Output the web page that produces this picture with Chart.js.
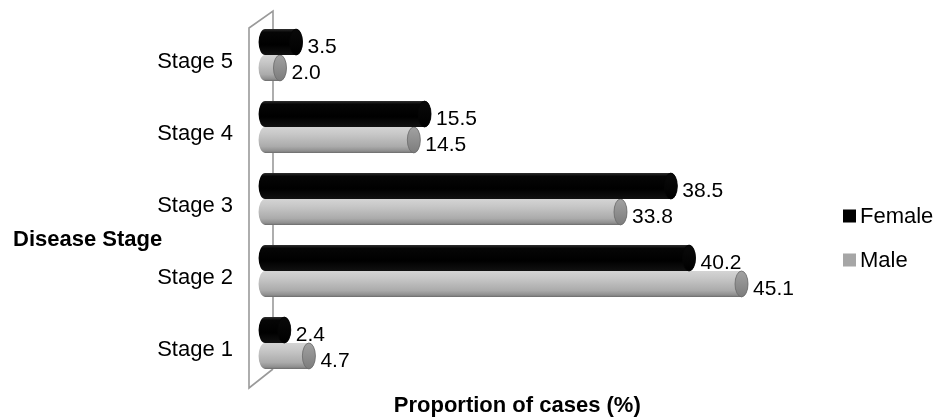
<!DOCTYPE html>
<html>
<head>
<meta charset="utf-8">
<script src="https://cdn.jsdelivr.net/npm/chart.js@4.4.1/dist/chart.umd.min.js"></script>
<style>
  html, body { margin: 0; padding: 0; background: #fff; }
  #wrap { width: 935px; height: 418px; }
</style>
</head>
<body>
<div id="wrap"><canvas id="chart" width="935" height="418"></canvas></div>
<script>
// Proportion of cases (%) by disease stage and sex
const categories = ['Stage 5', 'Stage 4', 'Stage 3', 'Stage 2', 'Stage 1'];
const femaleValues = [3.5, 15.5, 38.5, 40.2, 2.4];
const maleValues = [2.0, 14.5, 33.8, 45.1, 4.7];
const seriesNames = ['Female', 'Male'];

const FONT = '"Liberation Sans", Arial, Helvetica, sans-serif';

// Style of each series: body gradient stops, end-cap colours, legend swatch
const seriesStyle = [
  {
    body: [[0, '#2e2e2e'], [0.12, '#060606'], [0.6, '#000000'], [1, '#111111']],
    cap: ['#0a0a0a', '#000000'], capStroke: '#050505', swatch: '#000000'
  },
  {
    body: [[0, '#d4d4d4'], [0.3, '#c6c6c6'], [0.75, '#ababab'], [0.93, '#8e8e8e'], [1, '#6c6c6c']],
    cap: ['#a2a2a2', '#7c7c7c'], capStroke: '#6a6a6a', swatch: '#a6a6a6'
  }
];

// Draws each bar as a horizontal cylinder using the element geometry from the bar controller
const cylinderBars = {
  id: 'cylinderBars',
  beforeDatasetDraw(chart, args) {
    const ctx = chart.ctx;
    const style = seriesStyle[args.index];
    const rx = 6.5;
    args.meta.data.forEach(bar => {
      const { x, y, base, height } = bar.getProps(['x', 'y', 'base', 'height'], true);
      const top = y - height / 2, bottom = y + height / 2, ry = height / 2;
      const g = ctx.createLinearGradient(0, top, 0, bottom);
      style.body.forEach(s => g.addColorStop(s[0], s[1]));
      ctx.save();
      ctx.beginPath();
      ctx.moveTo(base, top);
      ctx.lineTo(x - rx, top);
      ctx.ellipse(x - rx, y, rx, ry, 0, -Math.PI / 2, Math.PI / 2);
      ctx.lineTo(base, bottom);
      ctx.ellipse(base, y, rx, ry, 0, Math.PI / 2, Math.PI * 1.5);
      ctx.closePath();
      ctx.fillStyle = g;
      ctx.fill();
      // end face
      const cg = ctx.createLinearGradient(0, top, 0, bottom);
      cg.addColorStop(0, style.cap[0]);
      cg.addColorStop(1, style.cap[1]);
      ctx.beginPath();
      ctx.ellipse(x - rx, y, rx, ry, 0, 0, Math.PI * 2);
      ctx.fillStyle = cg;
      ctx.fill();
      ctx.lineWidth = 0.8;
      ctx.strokeStyle = style.capStroke;
      ctx.stroke();
      ctx.restore();
    });
    return false;
  },
  afterDatasetsDraw(chart) {
    // value labels beside each bar end
    const ctx = chart.ctx;
    ctx.save();
    ctx.font = '21px ' + FONT;
    ctx.fillStyle = '#000';
    ctx.textAlign = 'left';
    ctx.textBaseline = 'middle';
    chart.data.datasets.forEach((ds, i) => {
      chart.getDatasetMeta(i).data.forEach((bar, j) => {
        const { x, y } = bar.getProps(['x', 'y'], true);
        ctx.fillText(ds.data[j].toFixed(1), x + 5, y + 5);
      });
    });
    ctx.restore();
  }
};

// Side wall of the 3-D plot area, axis caption and legend
const frame = {
  id: 'frame',
  beforeDatasetsDraw(chart) {
    const ctx = chart.ctx;
    const a = chart.chartArea;
    const fx = a.left, bx = a.left + 24;
    ctx.save();
    ctx.strokeStyle = '#9a9a9a';
    ctx.lineWidth = 1.6;
    ctx.beginPath();
    ctx.moveTo(bx, a.bottom - 10);
    ctx.lineTo(bx, a.top - 8);
    ctx.lineTo(fx, a.top + 9);
    ctx.lineTo(fx, a.bottom + 9);
    ctx.lineTo(bx, a.bottom - 10);
    ctx.stroke();
    ctx.restore();
  },
  afterDraw(chart) {
    const ctx = chart.ctx;
    ctx.save();
    ctx.fillStyle = '#000';
    ctx.textBaseline = 'middle';
    ctx.textAlign = 'left';
    ctx.font = 'bold 22px ' + FONT;
    ctx.fillText('Disease Stage', 13, 240);
    ctx.font = '22px ' + FONT;
    chart.data.datasets.forEach((ds, i) => {
      const cy = 216 + i * 44;
      ctx.fillStyle = seriesStyle[i].swatch;
      ctx.fillRect(843, cy - 6.5, 13, 13);
      ctx.fillStyle = '#000';
      ctx.fillText(ds.label, 860, cy + 1);
    });
    ctx.restore();
  }
};

new Chart(document.getElementById('chart'), {
  type: 'bar',
  data: {
    labels: categories,
    datasets: [
      { label: seriesNames[0], data: femaleValues, backgroundColor: seriesStyle[0].swatch },
      { label: seriesNames[1], data: maleValues, backgroundColor: seriesStyle[1].swatch }
    ]
  },
  options: {
    indexAxis: 'y',
    responsive: false,
    devicePixelRatio: 1,
    animation: false,
    categoryPercentage: 0.72,
    barPercentage: 1,
    layout: { padding: { top: 19, right: 149.5, bottom: 0, left: 0 } },
    plugins: { legend: { display: false }, tooltip: { enabled: false } },
    scales: {
      x: {
        min: -1.5,
        max: 48.6,
        grid: { display: false, drawTicks: false },
        border: { display: false },
        ticks: { display: false },
        title: {
          display: true,
          text: 'Proportion of cases (%)',
          color: '#000',
          font: { family: FONT, size: 22, weight: 'bold', lineHeight: 1 },
          padding: { top: 0, bottom: 1 }
        },
        afterFit(scale) { scale.height = 39; }
      },
      y: {
        grid: { display: false, drawTicks: false },
        border: { display: false },
        ticks: {
          color: '#000',
          padding: 16,
          labelOffset: 7,
          font: { family: FONT, size: 22 }
        },
        afterFit(scale) {
          scale.width = 249;
          scale.paddingTop = 0;
          scale.paddingBottom = 0;
        }
      }
    }
  },
  plugins: [cylinderBars, frame]
});
</script>
</body>
</html>
